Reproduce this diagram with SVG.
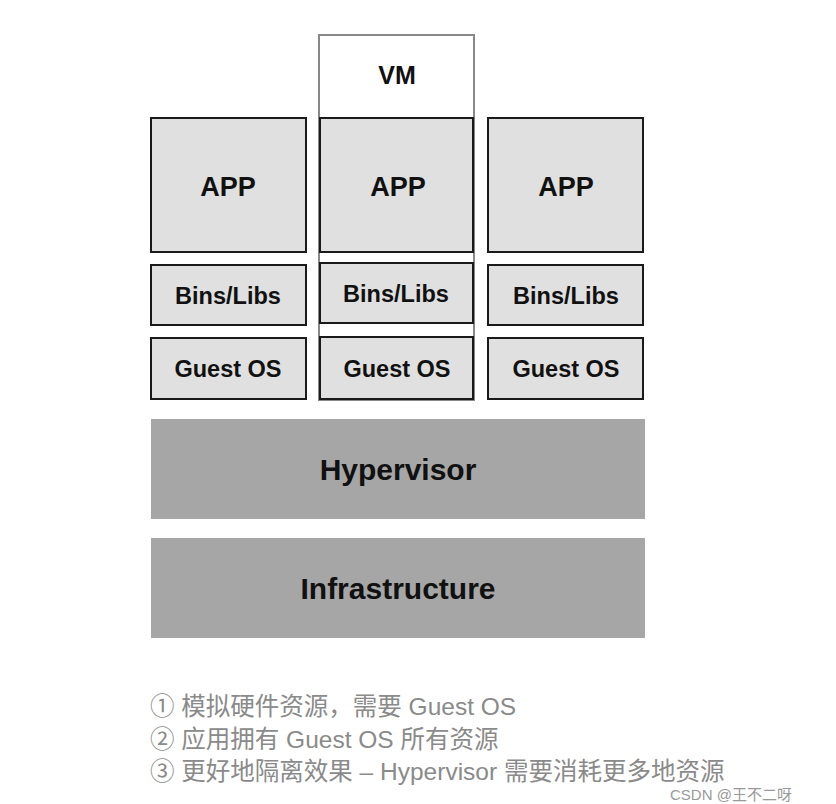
<svg xmlns="http://www.w3.org/2000/svg" width="836" height="804" viewBox="0 0 836 804">
<style>
.box{fill:#e0e0e0;stroke:#1a1a1a;stroke-width:2}
.dark{fill:#a6a6a6}
.t{font-family:"Liberation Sans",Arial,sans-serif;font-weight:bold;fill:#111;text-anchor:middle}
.n{font-family:"Liberation Sans","Noto Sans CJK SC",sans-serif;fill:#8a8a8a;font-size:24.5px}
</style>
<rect width="836" height="804" fill="#fff"/>
<g id="vm"><rect x="319" y="35" width="155" height="365" fill="none" stroke="#888" stroke-width="2"/><rect x="320" y="36" width="153" height="82" fill="#fff"/><text class="t" x="397" y="84" font-size="25">VM</text></g>
<g id="app1"><rect class="box" x="151" y="118" width="155" height="134"/><text class="t" x="228" y="196" font-size="27">APP</text></g>
<g id="app2"><rect class="box" x="320" y="118" width="153" height="134"/><text class="t" x="398" y="196" font-size="27">APP</text></g>
<g id="app3"><rect class="box" x="488" y="118" width="155" height="134"/><text class="t" x="566" y="196" font-size="27">APP</text></g>
<g id="bins1"><rect class="box" x="151" y="265" width="155" height="60"/><text class="t" x="228" y="304" font-size="23.5">Bins/Libs</text></g>
<g id="bins2"><rect class="box" x="320" y="263" width="153" height="60"/><text class="t" x="396" y="302" font-size="23.5">Bins/Libs</text></g>
<g id="bins3"><rect class="box" x="488" y="265" width="155" height="60"/><text class="t" x="566" y="304" font-size="23.5">Bins/Libs</text></g>
<g id="os1"><rect class="box" x="151" y="338" width="155" height="61"/><text class="t" x="228" y="377" font-size="23.5">Guest OS</text></g>
<g id="os2"><rect class="box" x="320" y="337" width="153" height="62"/><text class="t" x="397" y="377" font-size="23.5">Guest OS</text></g>
<g id="os3"><rect class="box" x="488" y="338" width="155" height="61"/><text class="t" x="566" y="377" font-size="23.5">Guest OS</text></g>
<g id="hypervisor"><rect class="dark" x="151" y="419" width="494" height="100"/><text class="t" x="398" y="480" font-size="30">Hypervisor</text></g>
<g id="infra"><rect class="dark" x="151" y="538" width="494" height="100"/><text class="t" x="398" y="599" font-size="30">Infrastructure</text></g>
<g id="connectors"/>
<g id="notes">
<text class="n" x="150" y="715">① 模拟硬件资源，需要 Guest OS</text>
<text class="n" x="150" y="748">② 应用拥有 Guest OS 所有资源</text>
<text class="n" x="150" y="780">③ 更好地隔离效果 – Hypervisor 需要消耗更多地资源</text>
<text x="670" y="800" font-family="'Liberation Sans','Noto Sans CJK SC',sans-serif" font-size="15" fill="#999">CSDN @王不二呀</text>
</g>
</svg>
